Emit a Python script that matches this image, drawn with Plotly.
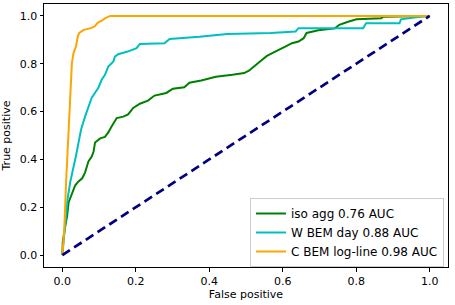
import plotly.graph_objects as go

# iso agg (green)
iso_fpr = [0, 0.001, 0.008, 0.013, 0.017, 0.026, 0.035, 0.044, 0.054, 0.062, 0.067, 0.071, 0.080, 0.085,
           0.089, 0.103, 0.116, 0.125, 0.134, 0.148, 0.166, 0.179, 0.193, 0.211, 0.233, 0.251, 0.283, 0.301,
           0.332, 0.346, 0.378, 0.418, 0.463, 0.495, 0.508, 0.526, 0.544, 0.557, 0.571, 0.589, 0.607, 0.625,
           0.643, 0.657, 0.665, 0.697, 0.742, 0.754, 0.778, 0.801, 0.868, 0.873, 1.0]
iso_tpr = [0, 0.054, 0.122, 0.164, 0.22, 0.254, 0.292, 0.308, 0.321, 0.346, 0.371, 0.392, 0.412, 0.433,
           0.471, 0.488, 0.494, 0.513, 0.538, 0.573, 0.579, 0.588, 0.615, 0.633, 0.646, 0.667, 0.678, 0.696,
           0.702, 0.721, 0.73, 0.746, 0.754, 0.761, 0.771, 0.796, 0.817, 0.833, 0.845, 0.858, 0.872, 0.886,
           0.893, 0.907, 0.929, 0.94, 0.948, 0.963, 0.976, 0.986, 0.99, 0.997, 1.0]

# W BEM day (cyan)
wbem_fpr = [0, 0.008, 0.014, 0.022, 0.031, 0.037, 0.044, 0.051, 0.062, 0.071, 0.080, 0.089, 0.098, 0.107,
            0.116, 0.125, 0.139, 0.143, 0.152, 0.178, 0.202, 0.211, 0.278, 0.292, 0.373, 0.449, 0.567, 0.635,
            0.643, 0.819, 0.827, 0.918, 0.922, 0.962, 1.0]
wbem_tpr = [0, 0.15, 0.233, 0.31, 0.367, 0.414, 0.47, 0.525, 0.58, 0.622, 0.658, 0.679, 0.70, 0.733,
            0.754, 0.788, 0.81, 0.83, 0.84, 0.851, 0.865, 0.883, 0.886, 0.904, 0.913, 0.925, 0.929, 0.935,
            0.949, 0.949, 0.97, 0.97, 0.986, 0.995, 1.0]

# C BEM log-line (orange)
cbem_fpr = [0, 0.005, 0.010, 0.015, 0.019, 0.022, 0.026, 0.0305, 0.037, 0.042, 0.046, 0.058, 0.071, 0.080,
            0.089, 0.096, 0.107, 0.116, 0.13, 1.0]
cbem_tpr = [0, 0.1, 0.3, 0.45, 0.56, 0.65, 0.804, 0.846, 0.872, 0.914, 0.929, 0.942, 0.946, 0.95,
            0.958, 0.971, 0.98, 0.99, 1.0, 1.0]

chance = [0, 1]

names = ["iso agg 0.76 AUC", "W BEM day 0.88 AUC", "C BEM log-line 0.98 AUC"]
colors = ["#008000", "#00BFBF", "#FFA500"]

fig = go.Figure()
for fx, ty, nm, c in zip([iso_fpr, wbem_fpr, cbem_fpr], [iso_tpr, wbem_tpr, cbem_tpr], names, colors):
    fig.add_trace(go.Scatter(x=fx, y=ty, mode="lines", name=nm, line=dict(color=c, width=2)))
fig.add_trace(go.Scatter(x=chance, y=chance, mode="lines", showlegend=False,
                         line=dict(color="#000080", width=2.7, dash="9px,5px")))

font = dict(family="DejaVu Sans", size=11, color="black")
axis_common = dict(showline=True, mirror=True, linecolor="black", linewidth=1, ticks="outside",
                   ticklen=3.5, tickcolor="black", showgrid=False, zeroline=False, tickfont=font)
fig.update_layout(
    width=455, height=305, margin=dict(l=44, r=7, t=4, b=38),
    plot_bgcolor="white", paper_bgcolor="white", font=font,
    xaxis=dict(range=[-0.05, 1.05], tickvals=[0, 0.2, 0.4, 0.6, 0.8, 1.0],
               ticktext=["0.0", "0.2", "0.4", "0.6", "0.8", "1.0"],
               title=dict(text="False positive", font=font, standoff=2), **axis_common),
    yaxis=dict(range=[-0.05, 1.05], tickvals=[0, 0.2, 0.4, 0.6, 0.8, 1.0],
               ticktext=["0.0", "0.2", "0.4", "0.6", "0.8", "1.0"],
               title=dict(text="True positive", font=font, standoff=6), **axis_common),
    legend=dict(x=0.99, y=0.0, xanchor="right", yanchor="bottom", bgcolor="rgba(255,255,255,0.8)",
                bordercolor="#cccccc", borderwidth=1, font=dict(family="DejaVu Sans", size=12, color="black"),
                itemwidth=30, tracegroupgap=0),
    showlegend=True,
)
fig.write_html("out.html", config={"displayModeBar": False},
               post_script="document.body.style.margin='0';document.body.style.overflow='hidden';")
